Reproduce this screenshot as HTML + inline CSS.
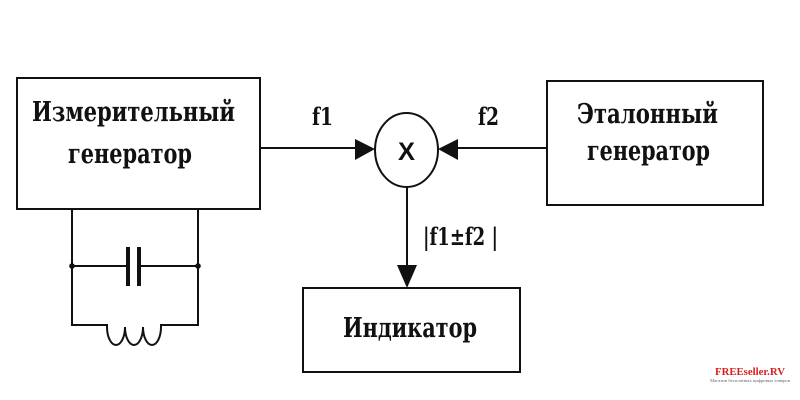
<!DOCTYPE html>
<html><head><meta charset="utf-8"><style>
html,body{margin:0;padding:0;background:#fff;}
svg{display:block;}
.t{font-family:"DejaVu Serif","Liberation Serif",serif;font-weight:bold;fill:#111;}
</style></head><body>
<svg width="800" height="400" viewBox="0 0 800 400" xmlns="http://www.w3.org/2000/svg">
<rect width="800" height="400" fill="#fff"/>
<g stroke="#111" stroke-width="2" fill="none">
<rect x="17" y="78" width="243" height="131"/>
<rect x="547" y="81" width="216" height="124"/>
<rect x="303" y="288" width="217" height="84"/>
<ellipse cx="406.5" cy="150" rx="31.5" ry="37"/>
<line x1="260" y1="148" x2="360" y2="148"/>
<line x1="547" y1="148" x2="452" y2="148"/>
<line x1="407" y1="187" x2="407" y2="268"/>
<line x1="72" y1="209" x2="72" y2="326"/>
<line x1="198" y1="209" x2="198" y2="326"/>
<line x1="72" y1="266" x2="127" y2="266"/>
<line x1="140" y1="266" x2="198" y2="266"/>
<path d="M72,325 L107,325 L107,327 A9,18 0 0 0 125,327 A9,18 0 0 0 143,327 A9,18 0 0 0 161,327 L161,325 L198,325"/>
</g>
<rect x="126" y="247" width="4" height="39" fill="#111"/>
<rect x="137" y="247" width="4" height="39" fill="#111"/>
<circle cx="72" cy="266" r="2.8" fill="#111"/>
<circle cx="198" cy="266" r="2.8" fill="#111"/>
<polygon points="355,139 375,149 355,160" fill="#111"/>
<polygon points="458,139 438,149 458,160" fill="#111"/>
<polygon points="397,265 417,265 407,288" fill="#111"/>
<text class="t" x="32" y="121" font-size="27" textLength="203" lengthAdjust="spacingAndGlyphs">Измерительный</text>
<text class="t" x="68" y="163" font-size="27" textLength="124" lengthAdjust="spacingAndGlyphs">генератор</text>
<text class="t" x="577" y="123" font-size="27" textLength="141" lengthAdjust="spacingAndGlyphs">Эталонный</text>
<text class="t" x="587" y="160" font-size="27" textLength="123" lengthAdjust="spacingAndGlyphs">генератор</text>
<text class="t" x="343" y="337" font-size="27" textLength="134" lengthAdjust="spacingAndGlyphs">Индикатор</text>
<text class="t" x="312" y="125" font-size="24" textLength="21" lengthAdjust="spacingAndGlyphs">f1</text>
<text class="t" x="478" y="125" font-size="24" textLength="21" lengthAdjust="spacingAndGlyphs">f2</text>
<text class="t" x="423" y="245" font-size="24" textLength="75" lengthAdjust="spacingAndGlyphs">|f1±f2 |</text>
<text x="398" y="160" font-family="Liberation Sans, sans-serif" font-weight="bold" font-size="25" fill="#111" textLength="17" lengthAdjust="spacingAndGlyphs">X</text>
<text x="715" y="375" font-family="Liberation Serif, serif" font-weight="bold" font-size="10" fill="#d42020" textLength="70" lengthAdjust="spacingAndGlyphs">FREEseller.RV</text>
<text x="710" y="382" font-family="Liberation Serif, serif" font-size="4" fill="#666" textLength="80" lengthAdjust="spacingAndGlyphs">Магазин бесплатных цифровых товаров</text>
</svg>
</body></html>
